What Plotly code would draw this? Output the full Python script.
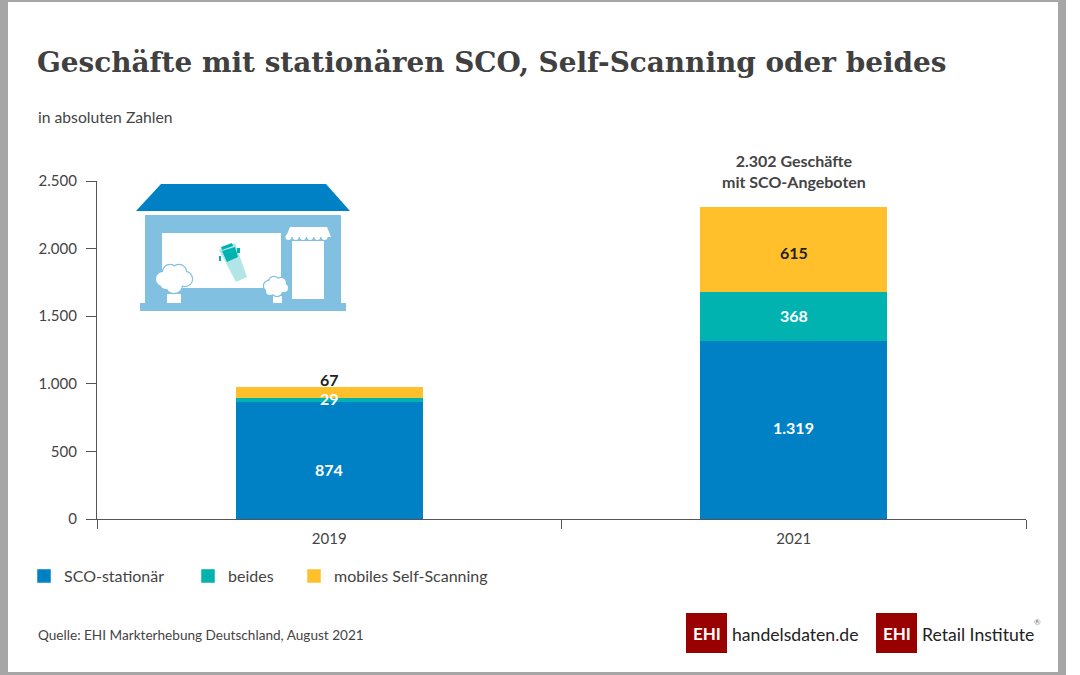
import plotly.graph_objects as go

years = ["2019", "2021"]
sco = [874, 1319]
beides = [29, 368]
mobil = [67, 615]
y_ticks = [0, 500, 1000, 1500, 2000, 2500]
total_label = "2.302 Geschäfte<br>mit SCO-Angeboten"

W, H = 1080, 675
BLUE = "#0081c6"
TEAL = "#00b2b0"
YELLOW = "#ffc02b"
LIGHT = "#82c0e2"
GREY = "#a6a6a6"
TXT = "#444444"
RED = "#990000"
FONT = "Lato"


def px(x):
    return x / W


def py(y):
    return 1 - y / H


def rect(x0, y0, x1, y1, color):
    return dict(type="rect", xref="paper", yref="paper", x0=px(x0), x1=px(x1),
                y0=py(y0), y1=py(y1), fillcolor=color, line_width=0, layer="above")


def poly(points, color):
    d = "M" + " L".join(f"{px(x):.5f},{py(y):.5f}" for x, y in points) + " Z"
    return dict(type="path", xref="paper", yref="paper", path=d, fillcolor=color,
                line_width=0, layer="above")


def circle(cx, cy, r, color):
    return dict(type="circle", xref="paper", yref="paper", x0=px(cx - r), x1=px(cx + r),
                y0=py(cy + r), y1=py(cy - r), fillcolor=color, line_width=0, layer="above")


def label(x, y, text, size, color=TXT, anchor="left", family=FONT, weight=None):
    return dict(xref="paper", yref="paper", x=px(x), y=py(y), text=text, showarrow=False,
                xanchor=anchor, yanchor="middle", borderpad=0,
                font=dict(size=size, color=color, family=family, weight=weight))


fig = go.Figure()
for name, vals, color, width in [
    ("SCO-stationär", sco, BLUE, 119),
    ("beides", beides, TEAL, 61),
    ("mobiles Self-Scanning", mobil, YELLOW, 190),
]:
    fig.add_bar(x=years, y=vals, name=name, width=0.4, legendwidth=width, cliponaxis=False,
                marker=dict(color=color, line=dict(color=color, width=1.5)))

shapes = [
    # page frame
    rect(0, 0, 1066, 2, GREY), rect(0, 0, 8, 675, GREY),
    rect(1058, 0, 1066, 675, GREY), rect(0, 672, 1066, 675, GREY),
    # shop icon
    poly([(161, 184), (326, 184), (350, 211), (136, 211)], BLUE),
    rect(145, 215, 341, 303, LIGHT),
    rect(140, 303, 346, 311, LIGHT),
    rect(162, 233, 281, 288, "white"),
    rect(292, 241, 324, 299, "white"),
    poly([(290, 227), (327, 227), (331, 237), (286, 237)], "white"),
    # scanner
    poly([(219, 250), (235, 243), (247, 277), (236, 282)], "#b2e6e6"),
    poly([(222, 251), (235, 247), (238, 257), (227, 262)], TEAL),
    poly([(221, 247), (232, 243), (233, 246), (222, 250)], TEAL),
    rect(219, 256, 221, 261, TEAL), rect(237, 248, 240, 253, TEAL),
    # trees
    rect(167, 294, 181, 303, "white"),
    rect(273, 296, 282, 303, "white"),
]
for i in range(6):
    shapes.append(circle(288.5 + i * 7.2, 237, 3, "white"))
tree_parts = [(163, 279, 7), (170, 272, 7), (179, 272, 7), (185, 279, 7),
              (174, 285, 8), (166, 283, 6), (269, 286, 5), (274, 282, 5),
              (281, 283, 5), (284, 288, 4), (277, 291, 5), (270, 291, 4)]
for cx, cy, r in tree_parts:
    shapes.append(circle(cx, cy, r + 1.2, LIGHT))
for cx, cy, r in tree_parts:
    shapes.append(circle(cx, cy, r, "white"))
# logos
shapes += [rect(686, 613, 727, 653, RED), rect(876, 613, 917, 653, RED)]

annotations = [
    label(37, 117, "in absoluten Zahlen", 15.7),
    label(37, 635, "Quelle: EHI Markterhebung Deutschland, August 2021", 13.6),
    label(706.5, 633, "EHI", 17, "white", "center", weight=700),
    label(896.5, 633, "EHI", 17, "white", "center", weight=700),
    label(731, 634, f"handelsdaten<span style='color:{RED}'>.</span>de", 17.6, "#222222"),
    label(921, 634, "Retail Institute", 17.6, "#222222"),
    label(1033, 622, "®", 8, "#777777"),
    dict(x=1, y=sco[1] + beides[1] + mobil[1], xref="x", yref="y", text=total_label,
         showarrow=False, yanchor="bottom", yshift=15,
         font=dict(size=16, color=TXT, family=FONT, weight=700)),
]

# value labels sit on top of all bars, so the 29 stays readable over the yellow segment
for i in range(len(years)):
    base = 0
    for vals, color in [(sco, "white"), (beides, "white"), (mobil, "#222222")]:
        v = vals[i]
        center = base + v / 2
        shift = 0
        if v == 874:
            shift = -10
        if v == 67:
            shift = 13
        if v == 615:
            shift = -3
        if v == 1319:
            shift = 2
        annotations.append(dict(x=i, y=center, xref="x", yref="y", text=f"{v:,}".replace(",", "."),
                                showarrow=False, yshift=shift,
                                font=dict(size=16, color=color, family=FONT, weight=700)))
        base += v

axis_line = dict(showline=True, linecolor="#555555", linewidth=1.2, ticks="outside",
                 tickcolor="#555555", tickwidth=1.2, zeroline=False, showgrid=False,
                 ticklabelstandoff=6, tickfont=dict(size=15, color=TXT, family=FONT))

fig.update_layout(
    width=W, height=H, margin=dict(l=0, r=0, t=0, b=0, autoexpand=False), autosize=False,
    paper_bgcolor="white", plot_bgcolor="white", barmode="stack", separators=",.",
    font=dict(family=FONT, color=TXT),
    title=dict(text="<b>Geschäfte mit stationären SCO, Self-Scanning oder beides</b>",
               xref="paper", yref="paper", x=px(37), xanchor="left", y=py(62), yanchor="middle",
               font=dict(family="DejaVu Serif", size=27.9, color="#404040")),
    xaxis=dict(domain=[px(97), px(1026)], type="category", tickson="boundaries", ticklen=9,
               range=[-0.5, 1.5], **axis_line),
    yaxis=dict(domain=[py(519), py(181)], range=[0, 2500], tickvals=y_ticks, tickformat=",d",
               ticklen=10, **axis_line),
    legend=dict(orientation="h", x=px(24), y=py(576), xanchor="left", yanchor="middle",
                font=dict(size=16, color=TXT, family=FONT), bgcolor="rgba(0,0,0,0)",
                traceorder="normal", itemclick=False),
    shapes=shapes, annotations=annotations,
)
fig.write_html("out.html", post_script="document.body.style.margin='0';",
               config={"displayModeBar": False})
